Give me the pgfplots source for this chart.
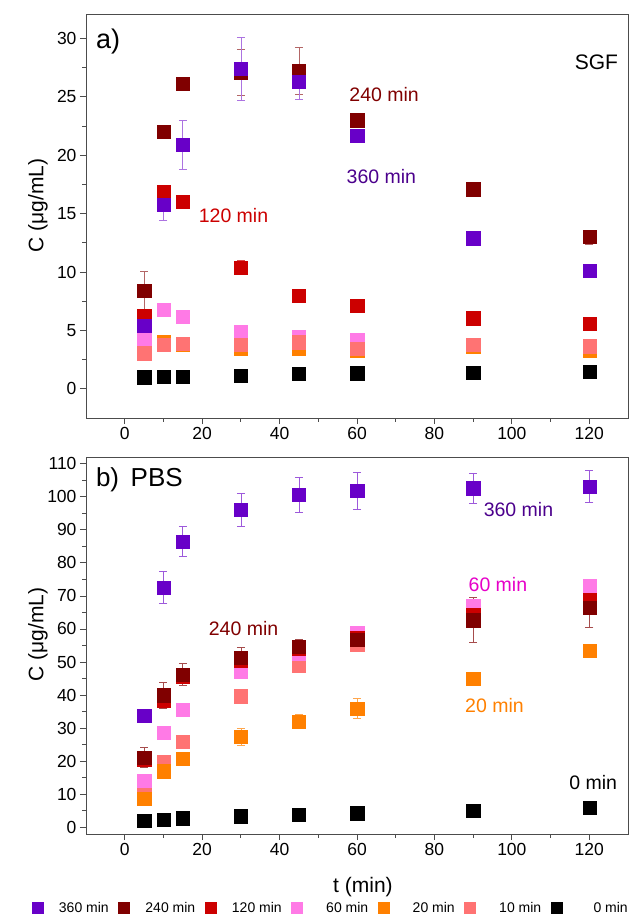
\documentclass[border=0pt]{standalone}
\usepackage{pgfplots}
\pgfplotsset{compat=1.18}
\usepackage{fontspec}
\setmainfont{Liberation Sans}
\definecolor{c360}{RGB}{104,0,200}
\definecolor{c240}{RGB}{128,0,0}
\definecolor{c120}{RGB}{204,0,0}
\definecolor{c60}{RGB}{255,122,230}
\definecolor{c20}{RGB}{255,128,0}
\definecolor{c10}{RGB}{255,115,115}
\definecolor{c0}{RGB}{0,0,0}
\definecolor{t360}{RGB}{75,0,140}
\definecolor{t60}{RGB}{230,0,200}
\begin{document}
\begin{tikzpicture}
\pgfplotsset{
  myaxis/.style={
    scale only axis, width=542pt, xmin=-10, xmax=130,
    xtick={0,20,...,120}, minor x tick num=1,
    tick pos=left, tick align=outside,
    major tick length=6pt, minor tick length=3.5pt,
    axis line style={black!70, line width=1pt},
    every tick/.style={black!70, line width=0.8pt},
    /pgf/number format/assume math mode=true,
    tick label style={font=\fontsize{17.5}{20}\selectfont},
    label style={font=\fontsize{21}{24}\selectfont},
    clip=false,
  },
  ser/.style={only marks, mark=square*, mark size=6.6pt, mark options={solid, fill=#1, draw=#1, line width=0.2pt}},
  err/.style={error bars/y dir=both, error bars/y explicit,
     error bars/error bar style={draw=#1, line width=0.6pt},
     error bars/error mark options={draw=#1, rotate=90, mark size=4pt, line width=0.6pt}},
  leg/.style={only marks, mark=square*, mark size=5.5pt, mark options={fill=#1, draw=#1}},
}
% ---------------- a) SGF ----------------
\begin{axis}[myaxis, at={(86pt,-418pt)}, anchor=south west, height=403pt,
  ymin=-2.5, ymax=32, ytick={0,5,...,30}, minor y tick num=1,
  ylabel={C (μg/mL)},
  ylabel style={at={(axis description cs:-0.0886,0.527)}, anchor=center},
]
\addplot[ser=c0] coordinates {(5,1.0) (10,1.05) (15,1.05) (30,1.15) (45,1.28) (60,1.34) (90,1.42) (120,1.48)};
\addplot[ser=c20] coordinates {(5,3.35) (10,4.05) (15,3.8) (30,3.45) (45,3.45) (60,3.3) (90,3.6) (120,3.3)};
\addplot[ser=c60] coordinates {(5,4.3) (10,6.8) (15,6.2) (30,4.9) (45,4.5) (60,4.2) (90,3.75) (120,3.65)};
\addplot[ser=c10] coordinates {(5,3.05) (10,3.75) (15,3.9) (30,3.8) (45,4.0) (60,3.45) (90,3.75) (120,3.65)};
\addplot[ser=c120, err=c120!70] table[x index=0, y index=1, y error index=2] {
5 6.3 0.3
10 16.9 0.5
15 16.0 0.3
30 10.4 0.6
45 8.0 0.3
60 7.15 0.3
90 6.05 0.2
120 5.55 0.2
};
\addplot[ser=c240, err=c240!60] table[x index=0, y index=1, y error index=2] {
5 8.4 1.7
10 22.0 0.4
15 26.1 0.3
30 27.1 2.0
45 27.2 2.0
60 23.0 0.6
90 17.1 0.3
120 13.0 0.6
};
\addplot[ser=c360, err=c360!55] table[x index=0, y index=1, y error index=2] {
5 5.4 0.3
10 15.8 1.4
15 20.9 2.1
30 27.4 2.7
45 26.3 1.5
60 21.7 0.5
90 12.9 0.3
120 10.1 0.3
};
\node[font=\fontsize{27}{30}\selectfont, anchor=west] at (axis description cs:0.012,0.935) {a)};
\node[font=\fontsize{21}{24}\selectfont, anchor=east] at (axis description cs:0.988,0.883) {SGF};
\node[font=\fontsize{19.5}{22}\selectfont, text=c240] at (axis cs:67,25.2) {240 min};
\node[font=\fontsize{19.5}{22}\selectfont, text=t360] at (axis cs:66.3,18.2) {360 min};
\node[font=\fontsize{19.5}{22}\selectfont, text=c120] at (axis cs:28.1,14.8) {120 min};
\end{axis}
% ---------------- b) PBS ----------------
\begin{axis}[myaxis, at={(86pt,-834pt)}, anchor=south west, height=377pt,
  ymin=-2, ymax=112, ytick={0,10,...,110}, minor y tick num=1,
  ylabel={C (μg/mL)}, xlabel={t (min)},
  ylabel style={at={(axis description cs:-0.0886,0.53)}, anchor=center},
  xlabel style={at={(axis description cs:0.511,-0.1406)}, anchor=center},
  legend style={at={(axis description cs:-0.106,-0.196)}, anchor=west, draw=none, fill=none,
     legend columns=7, font=\fontsize{14}{16}\selectfont,
     /tikz/every odd column/.append style={column sep=14pt},
     /tikz/every even column/.append style={column sep=7.5pt}},
]
\addlegendimage{leg=c360}
\addlegendentry{\makebox[50pt][r]{360 min}}
\addlegendimage{leg=c240}
\addlegendentry{\makebox[50pt][r]{240 min}}
\addlegendimage{leg=c120}
\addlegendentry{\makebox[50pt][r]{120 min}}
\addlegendimage{leg=c60}
\addlegendentry{\makebox[50pt][r]{60 min}}
\addlegendimage{leg=c20}
\addlegendentry{\makebox[50pt][r]{20 min}}
\addlegendimage{leg=c10}
\addlegendentry{\makebox[50pt][r]{10 min}}
\addlegendimage{leg=c0}
\addlegendentry{\makebox[50pt][r]{0 min}}
\addplot[forget plot, ser=c0] coordinates {(5,2.1) (10,2.4) (15,2.8) (30,3.4) (45,3.9) (60,4.3) (90,5.2) (120,5.9)};
\addplot[forget plot, ser=c10] coordinates {(5,11.5) (10,19.8) (15,25.9) (30,39.7) (45,48.9) (60,55.2) (90,64) (120,70)};
\addplot[forget plot, ser=c20, err=c20!70] table[x index=0, y index=1, y error index=2] {
5 8.7 0.5
10 17.0 0.5
15 20.8 0.5
30 27.4 2.5
45 32.1 2.2
60 36.0 3.0
90 45.1 1.0
120 53.4 1.0
};
\addplot[forget plot, ser=c60, err=c60!80] table[x index=0, y index=1, y error index=2] {
5 14.2 2.0
10 28.6 1.5
15 35.5 1.5
30 47.1 2.0
45 52.5 2.0
60 58.9 2.0
90 67.1 2.0
120 73.0 2.0
};
\addplot[forget plot, ser=c120, err=c120!70] table[x index=0, y index=1, y error index=2] {
5 20.5 1.0
10 38.5 2.0
15 45.5 2.0
30 50.5 2.0
45 54.0 2.0
60 57.5 2.0
90 64.2 3.0
120 69.0 3.0
};
\addplot[forget plot, ser=c240, err=c240!70] table[x index=0, y index=1, y error index=2] {
5 21.2 3.0
10 40.0 4.0
15 46.3 3.2
30 51.4 3.2
45 54.6 2.2
60 56.9 3.5
90 62.7 6.8
120 66.5 6.0
};
\addplot[forget plot, ser=c360, err=c360!65] table[x index=0, y index=1, y error index=2] {
5 33.7 0.8
10 72.6 4.7
15 86.5 4.4
30 96.1 5.0
45 100.6 5.2
60 101.9 5.6
90 102.6 4.5
120 103.1 4.9
};
\node[font=\fontsize{26}{29}\selectfont, anchor=west] at (axis description cs:0.012,0.94) {b)\, PBS};
\node[font=\fontsize{19.5}{22}\selectfont, text=c240] at (axis cs:30.7,60) {240 min};
\node[font=\fontsize{19.5}{22}\selectfont, text=t360] at (axis cs:101.7,96) {360 min};
\node[font=\fontsize{19.5}{22}\selectfont, text=t60] at (axis cs:96.4,73.3) {60 min};
\node[font=\fontsize{19.5}{22}\selectfont, text=c20] at (axis cs:95.5,37) {20 min};
\node[font=\fontsize{19.5}{22}\selectfont, text=black] at (axis cs:121,13.5) {0 min};
\end{axis}
\pgfresetboundingbox
\path[use as bounding box] (0pt,0pt) rectangle (634pt,-917pt);
\end{tikzpicture}
\end{document}
